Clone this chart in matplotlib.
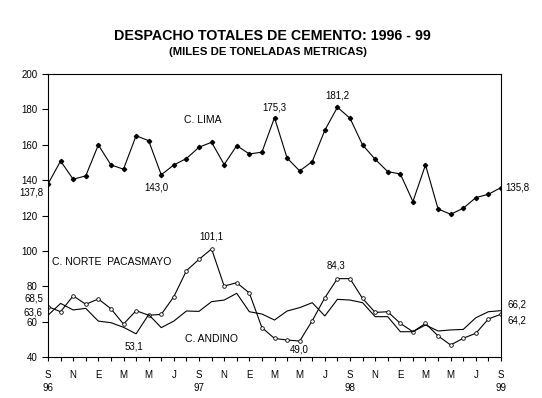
import numpy as np
import matplotlib
matplotlib.use("Agg")
import matplotlib.pyplot as plt

plt.rcParams['font.family'] = ['Liberation Sans', 'DejaVu Sans']

# monthly data, Sep 1996 .. Sep 1999
months = ['S', 'O', 'N', 'D', 'E', 'F', 'M', 'A', 'M', 'J', 'J', 'A'] * 3 + ['S']
years = {0: '96', 12: '97', 24: '98', 36: '99'}

lima = [137.8, 150.8, 140.5, 142.4, 159.9, 148.6, 146.2, 165.1, 162.3, 143.0,
        148.6, 152.2, 158.6, 161.4, 148.8, 159.5, 154.8, 155.8, 175.3, 152.5,
        145.2, 150.5, 168.2, 181.2, 175.0, 159.9, 151.8, 144.8, 143.5, 127.9,
        148.6, 123.7, 120.7, 124.1, 130.1, 132.0, 135.8]
norte = [68.5, 65.6, 74.6, 69.8, 72.8, 67.3, 58.6, 66.2, 63.6, 64.1,
         74.1, 88.8, 95.2, 101.1, 80.1, 82.0, 76.2, 56.6, 50.5, 49.6,
         49.0, 60.5, 73.5, 84.3, 84.3, 73.1, 65.2, 65.6, 59.0, 54.3,
         59.0, 51.9, 46.8, 50.6, 53.4, 61.5, 64.2]
andino = [63.6, 70.3, 66.6, 67.5, 60.3, 59.4, 56.8, 53.1, 64.0, 56.6,
          60.3, 66.0, 65.8, 71.3, 72.2, 76.0, 65.6, 64.3, 60.9, 66.0,
          67.9, 70.7, 63.2, 72.6, 72.2, 70.7, 62.8, 62.8, 54.3, 54.3,
          58.1, 54.7, 55.3, 55.6, 62.2, 65.6, 66.2]

x = np.arange(len(lima))

fig = plt.figure(figsize=(5.42, 3.98), dpi=100)
ax = fig.add_axes([48 / 542, 1 - 357 / 398, 453 / 542, 283 / 398])

ax.plot(x, lima, color='black', lw=0.8, marker='D', ms=2.2, mfc='black', mec='black')
ax.plot(x, norte, color='black', lw=0.8, marker='o', ms=2.6, mfc='white', mec='black', mew=0.6)
ax.plot(x, andino, color='black', lw=0.8)

ax.set_xlim(0, 36)
ax.set_ylim(40, 200)
ax.set_yticks(np.arange(40, 201, 20))

labels = []
for i, m in enumerate(months):
    lab = m if i % 2 == 0 else ''
    if i in years:
        lab = lab + '\n' + years[i]
    labels.append(lab)
ax.set_xticks(x)
ax.set_xticklabels(labels, linespacing=1.4)

ax.tick_params(axis='x', direction='out', length=3, width=0.8, pad=6, labelsize=7)
ax.tick_params(axis='y', direction='out', length=4, width=0.8, pad=3.5, labelsize=7)
for s in ax.spines.values():
    s.set_linewidth(0.8)
    s.set_color('black')

# series names and value labels
fs = 7
ax.text(12.3, 174.0, 'C. LIMA', fontsize=7.5, ha='center', va='center')
ax.text(0.3, 93.7, 'C. NORTE  PACASMAYO', fontsize=7.5, ha='left', va='center')
ax.text(13.0, 50.2, 'C. ANDINO', fontsize=7.5, ha='center', va='center')

ax.text(18.0, 180.8, '175,3', fontsize=fs, ha='center', va='center')
ax.text(23.0, 188.1, '181,2', fontsize=fs, ha='center', va='center')
ax.text(8.6, 135.8, '143,0', fontsize=fs, ha='center', va='center')
ax.text(-0.4, 132.8, '137,8', fontsize=fs, ha='right', va='center', clip_on=False)
ax.text(36.35, 135.6, '135,8', fontsize=fs, ha='left', va='center', clip_on=False)
ax.text(13.0, 108.4, '101,1', fontsize=fs, ha='center', va='center')
ax.text(6.8, 46.2, '53,1', fontsize=fs, ha='center', va='center')
ax.text(19.95, 44.5, '49,0', fontsize=fs, ha='center', va='center')
ax.text(22.9, 91.6, '84,3', fontsize=fs, ha='center', va='center')
ax.text(-0.4, 73.3, '68,5', fontsize=fs, ha='right', va='center', clip_on=False)
ax.text(-0.4, 64.9, '63,6', fontsize=fs, ha='right', va='center', clip_on=False)
ax.text(36.5, 69.4, '66,2', fontsize=fs, ha='left', va='center', clip_on=False)
ax.text(36.5, 60.9, '64,2', fontsize=fs, ha='left', va='center', clip_on=False)

fig.text(0.502, 1 - 36 / 398, 'DESPACHO TOTALES DE CEMENTO: 1996 - 99',
         fontsize=10.3, fontweight='bold', ha='center', va='center')
fig.text(0.494, 1 - 52 / 398, '(MILES DE TONELADAS METRICAS)',
         fontsize=8.2, fontweight='bold', ha='center', va='center')

fig.savefig('out.png', dpi=100)
